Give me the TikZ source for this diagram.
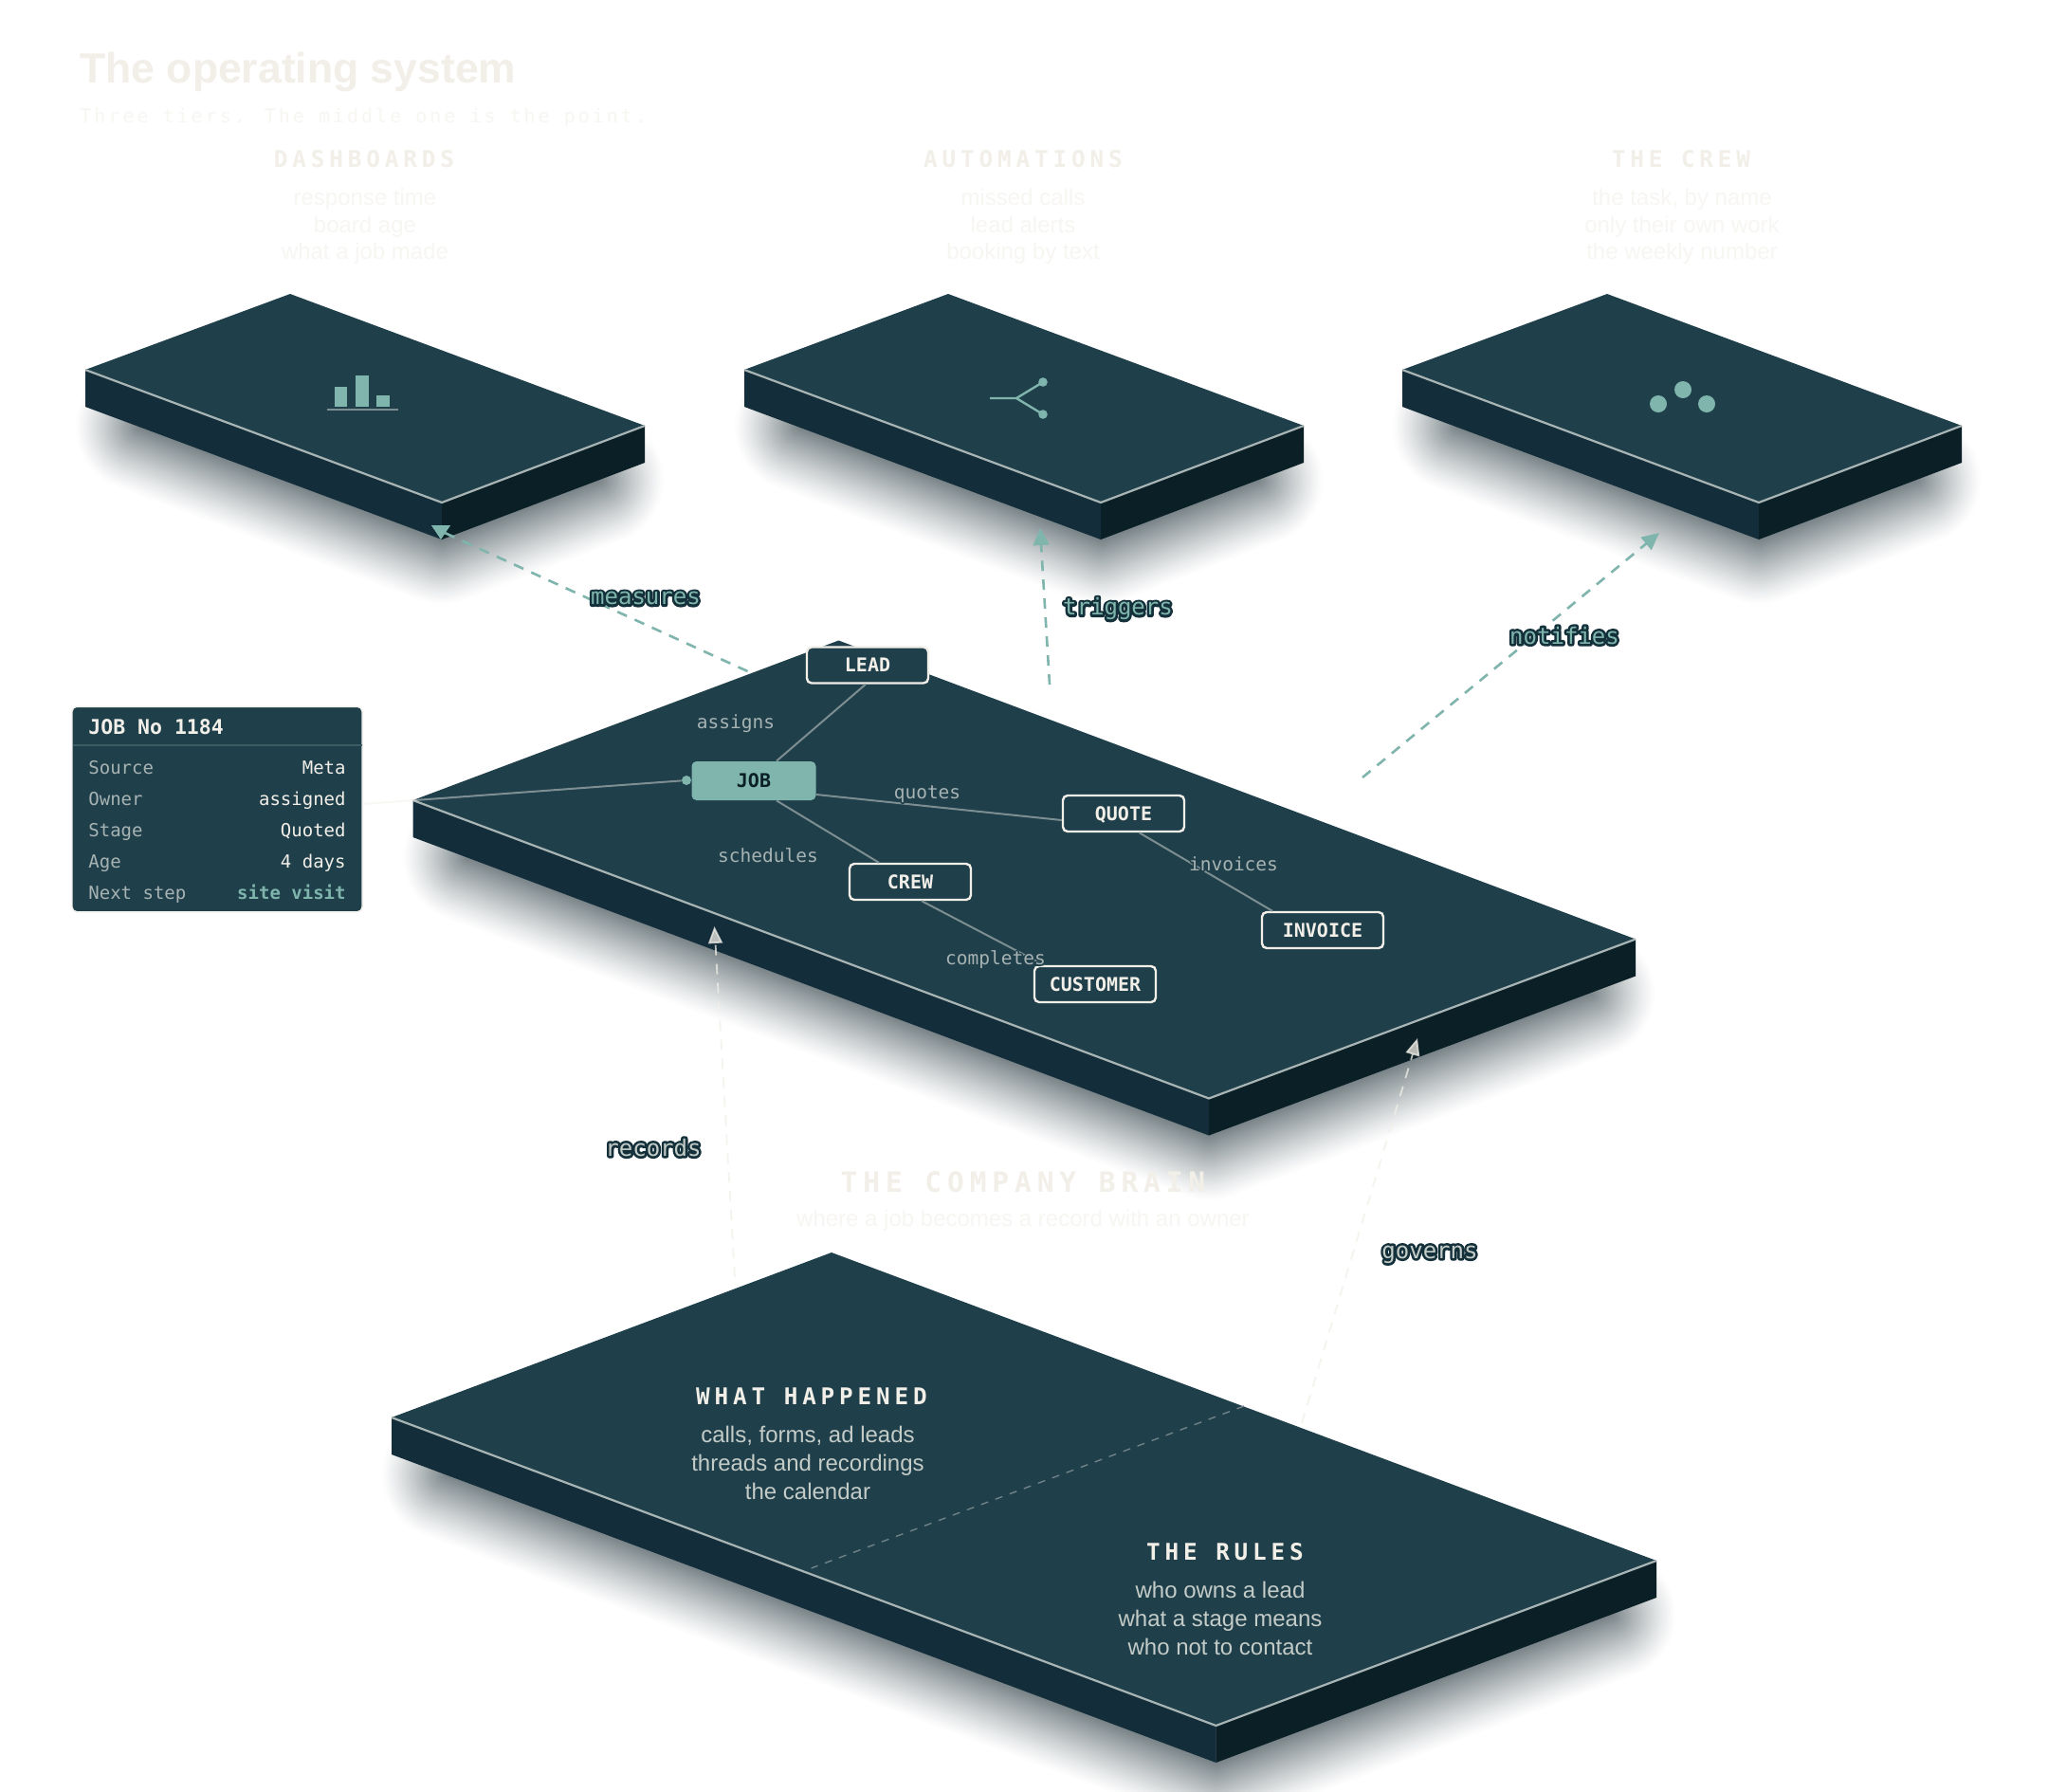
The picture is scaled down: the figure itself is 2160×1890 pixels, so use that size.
\documentclass[tikz,border=0pt]{standalone}
\usepackage{fontspec}
\usetikzlibrary{arrows.meta,calc}
\setmainfont{Liberation Sans}
\newfontfamily\monof{DejaVu Sans Mono}
\newfontfamily\monosp{DejaVu Sans Mono}[LetterSpace=20]
\newfontfamily\monosub{DejaVu Sans Mono}[LetterSpace=15]
\newcommand{\fpx}[1]{\fontsize{\the\dimexpr#1pt/2\relax}{\the\dimexpr#1pt/2\relax}\selectfont}
\definecolor{slabtop}{HTML}{1F3F4B}
\definecolor{slableft}{HTML}{142D3A}
\definecolor{slabright}{HTML}{0B1F26}
\definecolor{tealc}{HTML}{7FB5AD}
\definecolor{creama}{HTML}{F2EFE8}
\definecolor{creamb}{HTML}{F7F6F2}
\definecolor{edgec}{HTML}{A9B5B5}
\definecolor{labelc}{HTML}{A7B3B3}
\definecolor{linec}{HTML}{7D8E91}
\definecolor{splitc}{HTML}{6F8286}
\definecolor{sumc}{HTML}{C4CCC8}
\definecolor{sepc}{HTML}{3B5A62}
\newcommand{\strokedcode}[2]{\special{pdf:code q 1 Tr #1 w 1 j #2 RG}}
\newcommand{\outl}[3]{\leavevmode\rlap{\strokedcode{#1}{#2}#3\special{pdf:code Q}}#3}
\newcommand{\darkoutl}[1]{\outl{2.6}{0.078 0.188 0.227}{#1}}
\newcommand{\slaboutl}[1]{\outl{1.5}{0.122 0.247 0.294}{#1}}
\newcommand{\slab}[4]{%
  \coordinate (sT) at #1; \coordinate (sL) at #2; \coordinate (sB) at #3; \coordinate (sR) at #4;
  \foreach \k in {0,...,33}{
    \pgfmathsetmacro{\t}{(\k+1)/34}
    \pgfmathsetmacro{\pp}{56*\t^1.2}
    \pgfmathsetmacro{\ww}{70*(1-\t)}
    \draw[line join=round,line width=\ww pt,color=slabright!\pp!white,fill=slabright!\pp!white]
      ($(sL)+(58,60)$) -- ($(sB)+(0,39)$) -- ($(sR)+(-48,57)$) -- cycle;
  }
  \fill[slableft] (sL) -- (sB) -- ($(sB)+(0,39)$) -- ($(sL)+(0,39)$) -- cycle;
  \fill[slabright] (sB) -- (sR) -- ($(sR)+(0,39)$) -- ($(sB)+(0,39)$) -- cycle;
  \fill[slabtop] (sT) -- (sR) -- (sB) -- (sL) -- cycle;
  \draw[edgec,line width=1.1pt,line join=round] (sL) -- (sB) -- (sR);
}
\tikzset{
  flow/.style={tealc,line width=1.3pt,dash pattern=on 5.5pt off 4.5pt,-{Triangle[length=9pt,width=8.5pt]}},
  flowplain/.style={tealc,line width=1.3pt,dash pattern=on 5.5pt off 4.5pt},
  flowtip/.style={tealc,line width=0.5pt,-{Triangle[length=7.5pt,width=10pt]}},
  base/.style={creama,opacity=0.75,line width=0.9pt,dash pattern=on 5.5pt off 4.5pt,-{Triangle[length=9pt,width=7.5pt]}},
  entity/.style={draw=creama,line width=1.2pt,fill=slabtop,rounded corners=2.5pt,minimum width=64pt,minimum height=19pt,inner sep=0pt,text=creama,text height=7.3pt,text depth=0pt,font=\monof\bfseries\fpx{20}},
  wire/.style={linec,line width=1pt},
  wlabel/.style={text=labelc,inner sep=0pt,text height=7pt,text depth=1.65pt,font=\monof\fpx{19.5}},
  flabel/.style={inner sep=0pt,text height=9pt,text depth=2.4pt,font=\monof\fpx{24}},
  head/.style={text=creama,inner sep=0pt,font=\monosp\bfseries\fpx{24.3}},
  item/.style={text=creamb,inner sep=0pt,font=\fpx{24}},
  onslab/.style={text=sumc,inner sep=0pt,font=\fpx{24}},
  slabhead/.style={text=creama,inner sep=0pt,font=\monosp\bfseries\fpx{24.3}},
  rowk/.style={anchor=base west,text=labelc,inner sep=0pt,font=\monof\fpx{19}},
  rowv/.style={anchor=base east,text=creama,inner sep=0pt,font=\monof\fpx{19}},
}
\begin{document}
\begin{tikzpicture}[x=0.5pt,y=-0.5pt]
\useasboundingbox (0,0) rectangle (2160,1890);
\fill[white] (0,0) rectangle (2160,1890);

% slabs
\slab{(306,310)}{(90,390)}{(466,530)}{(680,449)}
\slab{(1000,310)}{(785,390)}{(1161,530)}{(1375,449)}
\slab{(1695,310)}{(1479,390)}{(1855,530)}{(2069,449)}
\slab{(884.5,675.5)}{(435.5,844)}{(1275,1158.5)}{(1725,990.5)}
\slab{(877,1321)}{(413,1495)}{(1282.5,1820)}{(1747,1646)}

% title
\node[anchor=base west,inner sep=0pt,text=creama,font=\bfseries\fpx{44.5}] (title) at (84,87) {The operating system};
\node[anchor=base west,inner sep=0pt,text=creamb,font=\monosub\fpx{20}] (subtitle) at (84,129) {Three tiers. The middle one is the point.};

% tier headings
\node[head] (h1) at (384,168) {DASHBOARDS};
\node[item,anchor=base] (h1a) at (385,216.5) {response time};
\node[item,anchor=base] (h1b) at (385,245.5) {board age};
\node[item,anchor=base] (h1c) at (385,273.5) {what a job made};
\node[head] (h2) at (1079,168) {AUTOMATIONS};
\node[item,anchor=base] (h2a) at (1079,216.5) {missed calls};
\node[item,anchor=base] (h2b) at (1079,245.5) {lead alerts};
\node[item,anchor=base] (h2c) at (1079,273.5) {booking by text};
\node[head] (h3) at (1773,168) {THE CREW};
\node[item,anchor=base] (h3a) at (1774,216.5) {the task, by name};
\node[item,anchor=base] (h3b) at (1774,245.5) {only their own work};
\node[item,anchor=base] (h3c) at (1774,273.5) {the weekly number};

% icons
\fill[tealc] (353,408) rectangle (366,429);
\fill[tealc] (375,396) rectangle (389,429);
\fill[tealc] (397,417) rectangle (411,429);
\draw[linec,line width=1pt] (345,432) -- (420,432);
\draw[tealc,line width=1.2pt] (1044,420) -- (1072,420) -- (1100,403);
\draw[tealc,line width=1.2pt] (1072,420) -- (1100,437);
\fill[tealc] (1100,403) circle (4.8);
\fill[tealc] (1100,437) circle (4.8);
\fill[tealc] (1749,426) circle (9);
\fill[tealc] (1775,411) circle (9);
\fill[tealc] (1800,426) circle (9);

% middle slab heading
\node[text=creama,inner sep=0pt,font=\monosp\bfseries\fpx{29.5}] (brain) at (1079,1247) {THE COMPANY BRAIN};
\node[item,anchor=base] (brainsub) at (1079,1293) {where a job becomes a record with an owner};

% panel
\node[draw=creama,line width=0.7pt,fill=slabtop,rounded corners=2.5pt,minimum width=153pt,minimum height=108.2pt,inner sep=0pt] (panel) at (229,853.5) {};
\draw[sepc,line width=0.9pt] (76.5,786) -- (381.5,786);
\node[anchor=base west,text=creama,inner sep=0pt,font=\monof\bfseries\fpx{21.5}] (ptitle) at (93,774) {JOB No 1184};
\node[rowk] (k1) at (93,816.5) {Source};
\node[rowv] (v1) at (365,816.5) {Meta};
\node[rowk] (k2) at (93,849.5) {Owner};
\node[rowv] (v2) at (365,849.5) {assigned};
\node[rowk] (k3) at (93,882.5) {Stage};
\node[rowv] (v3) at (365,882.5) {Quoted};
\node[rowk] (k4) at (93,915.5) {Age};
\node[rowv] (v4) at (365,915.5) {4 days};
\node[rowk] (k5) at (93,948.5) {Next step};
\node[rowv,text=tealc,font=\monof\bfseries\fpx{19}] (v5) at (365,948.5) {site visit};

% entity nodes
\node[entity] (lead) at (915,701.5) {LEAD};
\node[fill=tealc,rounded corners=2.5pt,minimum width=65.5pt,minimum height=20.5pt,inner sep=0pt,text=slabright,text height=7.3pt,text depth=0pt,font=\monof\bfseries\fpx{20}] (job) at (795,823.5) {JOB};
\node[entity] (quote) at (1185,858) {QUOTE};
\node[entity] (crew) at (960,930) {CREW};
\node[entity] (invoice) at (1395,981) {INVOICE};
\node[entity] (customer) at (1155,1038) {CUSTOMER};
\node[circle,fill=tealc,inner sep=0pt,minimum size=5pt] (jobdot) at (724,823) {};

\draw[wire] ([shift={(-2,0)}]lead.south) -- ([shift={(24,0)}]job.north);
\draw[wire] ([shift={(24,0)}]job.south) -- ([shift={(-33,0)}]crew.north);
\draw[wire] (job.east |- 0,838) -- (quote.west |- 0,865);
\draw[wire] ([shift={(16.5,0)}]quote.south) -- ([shift={(-53,0)}]invoice.north);
\draw[wire] ([shift={(12,0)}]crew.south) -- ([shift={(-54,0)}]customer.north);
\draw[creama,opacity=0.45,line width=1pt] (panel.east |- 0,848) -- (jobdot);

% wire labels
\node[wlabel] (l1) at (776,763) {\slaboutl{assigns}};
\node[wlabel] (l2) at (810,904) {\slaboutl{schedules}};
\node[wlabel] (l3) at (978,837) {\slaboutl{quotes}};
\node[wlabel] (l4) at (1301,913) {\slaboutl{invoices}};
\node[wlabel] (l5) at (1050,1012) {\slaboutl{completes}};

% split in lower slab
\draw[splitc,line width=0.7pt,dash pattern=on 4pt off 4pt] (1312,1483) coordinate (splita) -- (855.5,1654) coordinate (splitb);
\node[slabhead] (w1) at (856,1473) {WHAT HAPPENED};
\node[onslab,anchor=base] (w1a) at (852,1521) {calls, forms, ad leads};
\node[onslab,anchor=base] (w1b) at (852,1551) {threads and recordings};
\node[onslab,anchor=base] (w1c) at (852,1581) {the calendar};
\node[slabhead] (r1) at (1292,1637) {THE RULES};
\node[onslab,anchor=base] (r1a) at (1287,1685) {who owns a lead};
\node[onslab,anchor=base] (r1b) at (1287,1715) {what a stage means};
\node[onslab,anchor=base] (r1c) at (1287,1745) {who not to contact};

% flows
\coordinate (mA) at (788.5,708); \coordinate (mB) at (467,561); \coordinate (mC) at (465,569); \coordinate (mD) at (465,553.5);
\coordinate (tA) at (1107,722); \coordinate (tB) at (1097,557);
\coordinate (nA) at (1437,820); \coordinate (nB) at (1750,562);
\coordinate (rA) at (775,1347); \coordinate (rB) at (753.5,977);
\coordinate (gA) at (1373,1501); \coordinate (gB) at (1495,1095);
\draw[flowplain] (mA) -- (mB);
\draw[flowtip] (mD) -- (mC);
\draw[flow] (tA) -- (tB);
\draw[flow] (nA) -- (nB);
\draw[base] (rA) -- (rB);
\draw[base] (gA) -- (gB);

% flow labels
\node[flabel,text=tealc] (fm) at (681,631) {\darkoutl{measures}};
\node[flabel,text=tealc] (ft) at (1179,642) {\darkoutl{triggers}};
\node[flabel,text=tealc] (fn) at (1650,672.5) {\darkoutl{notifies}};
\node[flabel,text=sumc] (fr) at (689,1212.5) {\darkoutl{records}};
\node[flabel,text=sumc] (fg) at (1508,1320.5) {\darkoutl{governs}};
\end{tikzpicture}
\end{document}
